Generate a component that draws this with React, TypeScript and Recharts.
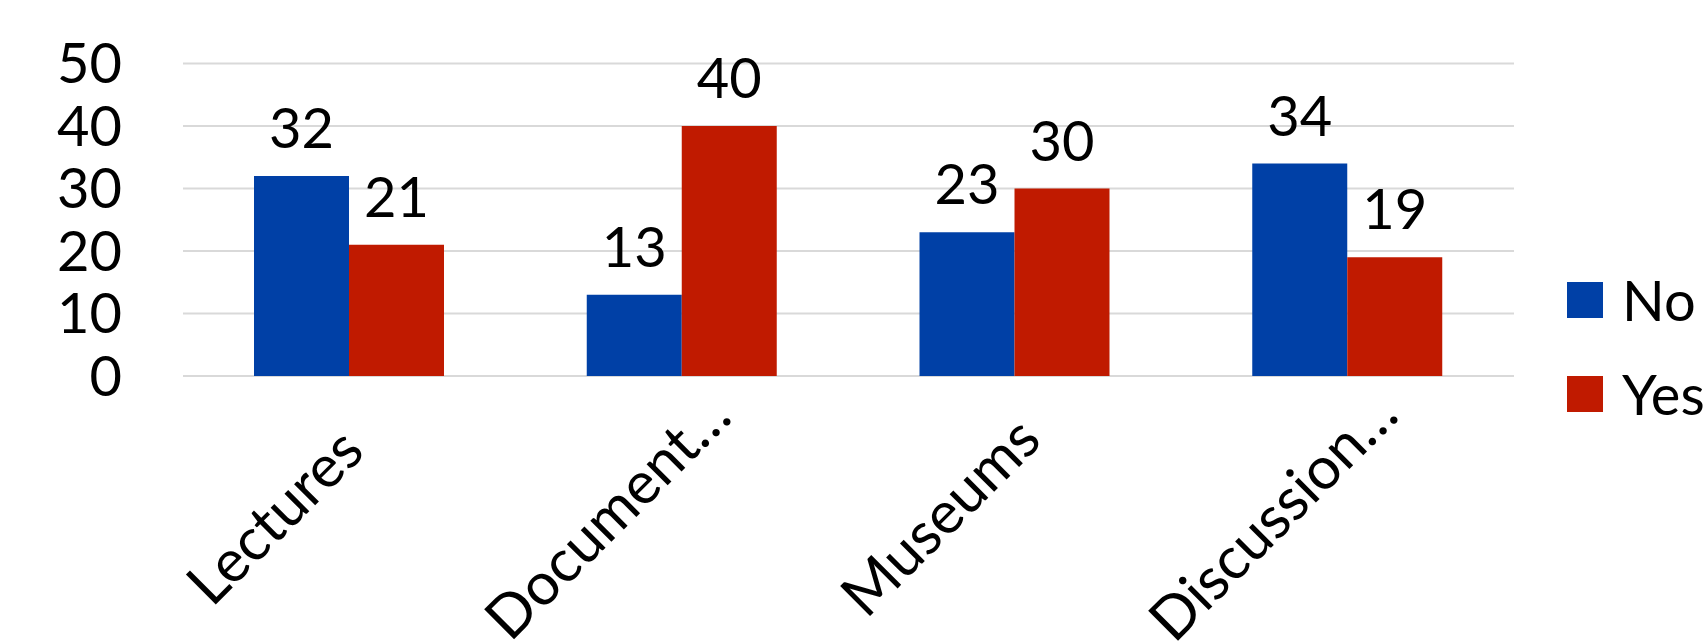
import React from 'react';
import { BarChart, Bar, XAxis, YAxis, CartesianGrid, Legend, LabelList } from 'recharts';

const categories = ['Lectures', 'Document…', 'Museums', 'Discussion…'];
const noValues = [32, 13, 23, 34];
const yesValues = [21, 40, 30, 19];
const yTicks = [0, 10, 20, 30, 40, 50];

const data = categories.map((name, i) => ({ name, No: noValues[i], Yes: yesValues[i] }));

const FONT = 'Lato, "Open Sans", sans-serif';

const AngledTick = ({ x, y, payload }: any) => {
  const tx = x - 60;
  const ty = y + 155;
  return (
    <text
      x={tx}
      y={ty}
      textAnchor="middle"
      transform={`rotate(-45 ${tx} ${ty})`}
      fontSize={59}
      fill="#000"
      fontFamily={FONT}
    >
      {payload.value}
    </text>
  );
};

const renderLegend = ({ payload }: any) => (
  <div>
    {(payload || []).map((item: any, i: number) => (
      <div
        key={item.value}
        style={{ display: 'flex', alignItems: 'center', height: 36, marginBottom: i === 0 ? 58 : 0 }}
      >
        <div style={{ width: 36, height: 36, background: item.color, marginRight: 19 }} />
        <span style={{ fontSize: 56, lineHeight: '36px', color: '#000', whiteSpace: 'nowrap' }}>{item.value}</span>
      </div>
    ))}
  </div>
);

const App: React.FC = () => {
  return (
    <div
      style={{
        position: 'absolute',
        left: 0,
        top: 0,
        width: 1705,
        height: 644,
        overflow: 'hidden',
        background: '#fff',
        fontFamily: FONT,
      }}
    >
      <BarChart
        width={1705}
        height={644}
        data={data}
        margin={{ top: 63.5, right: 191, bottom: 0, left: 83 }}
        barGap={0}
      >
        <CartesianGrid vertical={false} stroke="#d9d9d9" strokeWidth={2} />
        <XAxis
          dataKey="name"
          height={268}
          axisLine={false}
          tickLine={false}
          tickSize={0}
          tickMargin={0}
          interval={0}
          tick={<AngledTick />}
        />
        <YAxis
          width={100}
          domain={[0, 50]}
          ticks={yTicks}
          interval={0}
          axisLine={false}
          tickLine={false}
          tickSize={0}
          tickMargin={61}
          tick={{ fontSize: 56, fill: '#000', fontFamily: FONT }}
        />
        <Legend
          layout="vertical"
          align="center"
          verticalAlign="middle"
          content={renderLegend}
          wrapperStyle={{ left: 1567, top: 282, width: 200 }}
        />
        <Bar dataKey="No" fill="#0040A6" barSize={95} isAnimationActive={false}>
          <LabelList dataKey="No" position="top" offset={28} fontSize={56} fill="#000" fontFamily={FONT} />
        </Bar>
        <Bar dataKey="Yes" fill="#C01A00" barSize={95} isAnimationActive={false}>
          <LabelList dataKey="Yes" position="top" offset={28} fontSize={56} fill="#000" fontFamily={FONT} />
        </Bar>
      </BarChart>
    </div>
  );
};

export default App;
